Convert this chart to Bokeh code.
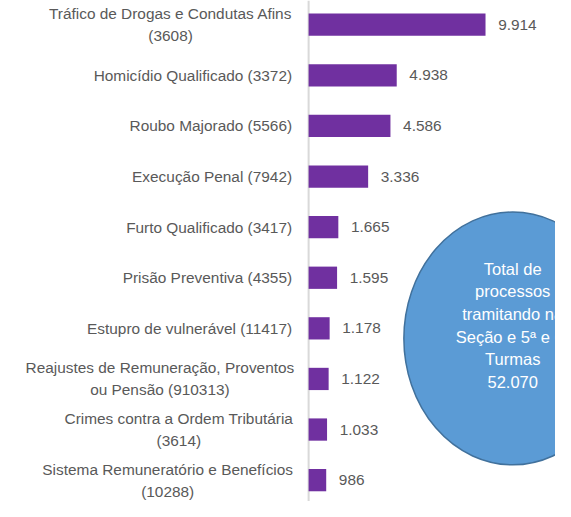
from bokeh.plotting import figure
from bokeh.models import ColumnDataSource, Range1d, Span
from bokeh.core.properties import value
from bokeh.embed import file_html
from bokeh.resources import INLINE

# ---- data ----
categories = [
    "Tráfico de Drogas e Condutas Afins\n(3608)",
    "Homicídio Qualificado (3372)",
    "Roubo Majorado (5566)",
    "Execução Penal (7942)",
    "Furto Qualificado (3417)",
    "Prisão Preventiva (4355)",
    "Estupro de vulnerável (11417)",
    "Reajustes de Remuneração, Proventos\nou Pensão (910313)",
    "Crimes contra a Ordem Tributária\n(3614)",
    "Sistema Remuneratório e Benefícios\n(10288)",
]
values = [9914, 4938, 4586, 3336, 1665, 1595, 1178, 1122, 1033, 986]
total_processos = 52070
total_text = "Total de\nprocessos\ntramitando na\nSeção e 5ª e 6ª\nTurmas\n"

def fmt(v):
    return f"{v:,}".replace(",", ".")

value_labels = [fmt(v) for v in values]

# ---- layout ----
W, H = 555, 501
sx = W / 571.0
sy = H / 517.0
FONT = value("Liberation Sans")
GRAY = "#595959"
LBL = f"{15.8 * sx:.1f}px"

p = figure(width=W, height=H, output_backend="svg", toolbar_location=None,
           x_range=Range1d(-17268, 13836), y_range=Range1d(9.422, -0.479),
           x_axis_location=None, y_axis_location=None, min_border=0,
           background_fill_color="white", border_fill_color="white")
p.grid.visible = False
p.outline_line_color = None

ys = list(range(len(categories)))
src = ColumnDataSource(dict(y=ys, v=values, lab=value_labels))

p.add_layout(Span(location=0, dimension="height", line_color="#D9D9D9",
                  line_width=2, level="underlay"))

p.hbar(y="y", left=0, right="v", height=0.44, source=src,
       fill_color="#7030A0", line_color=None)

# value labels
p.text(x="v", y="y", text="lab", source=src, x_offset=13 * sx,
       text_align="left", text_baseline="middle", text_font=FONT,
       text_font_size=LBL, text_color=GRAY)

# category labels
single = [(y, c) for y, c in zip(ys, categories) if "\n" not in c]
multi = [(y, c) for y, c in zip(ys, categories) if "\n" in c]
# half widths of the longest line of each two-line label (px, reference)
multi_half = {0: 124, 7: 135, 8: 115.5, 9: 127}

s1 = ColumnDataSource(dict(y=[a for a, _ in single], t=[b for _, b in single],
                           x=[0] * len(single)))
p.text(x="x", y="y", text="t", source=s1, x_offset=-17 * sx,
       text_align="right", text_baseline="middle", text_font=FONT,
       text_font_size=LBL, text_color=GRAY)

s2 = ColumnDataSource(dict(y=[a for a, _ in multi], t=[b for _, b in multi],
                           x=[0] * len(multi),
                           xo=[-(18 + multi_half[a]) * sx for a, _ in multi]))
p.text(x="x", y="y", text="t", source=s2, x_offset="xo",
       text_align="center", text_baseline="middle", text_font=FONT,
       text_font_size=LBL, text_color=GRAY,
       text_line_height=1.29)

# total bubble
p.ellipse(x=[11439], y=[6.2], width=224 * sx, height=261 * sy,
          width_units="screen", height_units="screen",
          fill_color="#5B9BD5", line_color="#41719C", line_width=1.5)
p.text(x=[11439], y=[5.94], text=[total_text + fmt(total_processos)],
       text_align="center", text_baseline="middle", text_font=FONT,
       text_font_size=f"{17 * sx:.1f}px", text_color="white",
       text_line_height=1.26)

open("out.html", "w").write(file_html(p, INLINE))
